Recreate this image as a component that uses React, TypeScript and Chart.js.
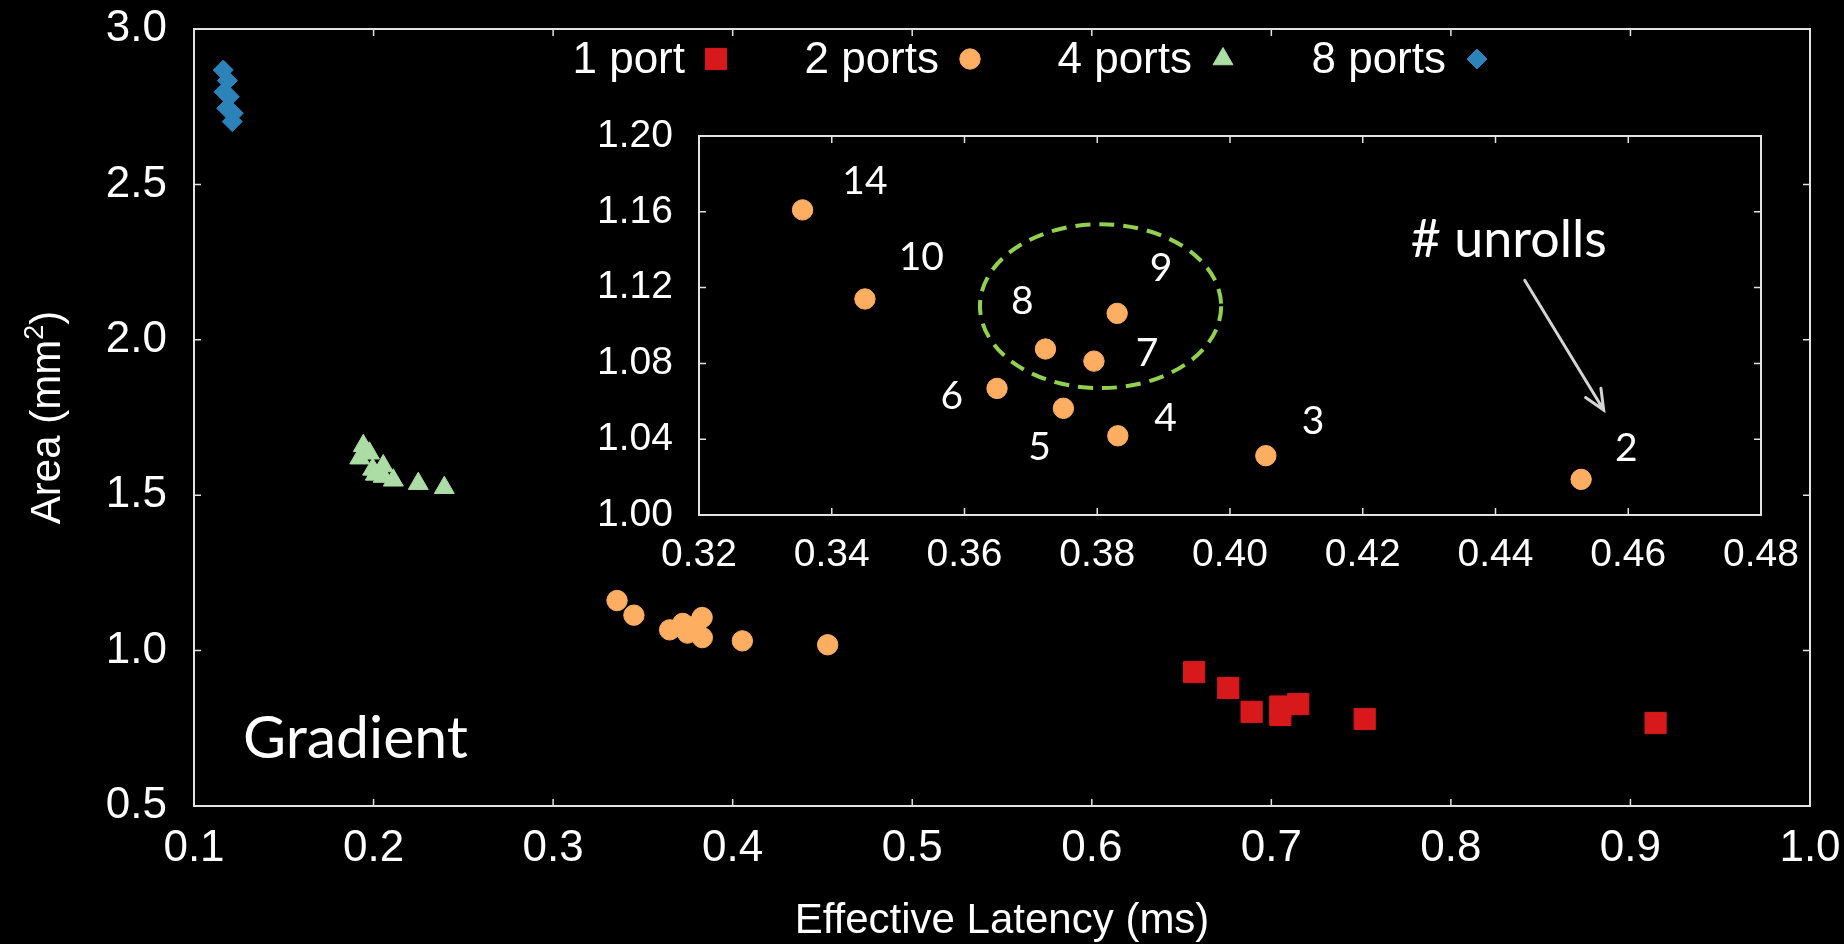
import React, { useEffect, useRef } from 'react';
import { Chart, registerables } from 'chart.js';
Chart.register(...registerables);

// ---------- data ----------
const seriesNames = ['1 port', '2 ports', '4 ports', '8 ports'];

const onePortLatency = [0.657, 0.676, 0.689, 0.705, 0.705, 0.715, 0.752, 0.914];
const onePortArea = [0.931, 0.880, 0.803, 0.820, 0.793, 0.828, 0.780, 0.767];

const twoPortUnrolls = ['14', '10', '9', '8', '7', '6', '5', '4', '3', '2'];
const twoPortLatency = [0.3356, 0.345, 0.383, 0.3722, 0.3795, 0.3649, 0.3749, 0.3831, 0.4054, 0.4529];
const twoPortArea = [1.161, 1.114, 1.1064, 1.0876, 1.0812, 1.0668, 1.0563, 1.0418, 1.0313, 1.0188];

const fourPortLatency = [0.1943, 0.1977, 0.1923, 0.1995, 0.2054, 0.201, 0.2054, 0.211, 0.2249, 0.2394];
const fourPortArea = [1.659, 1.635, 1.619, 1.583, 1.594, 1.567, 1.56, 1.548, 1.537, 1.524];

const eightPortLatency = [0.1163, 0.1186, 0.1167, 0.1197, 0.1182, 0.1219, 0.1213];
const eightPortArea = [2.868, 2.834, 2.798, 2.782, 2.745, 2.729, 2.702];

const mainXTicks = [0.1, 0.2, 0.3, 0.4, 0.5, 0.6, 0.7, 0.8, 0.9, 1.0];
const mainYTicks = [0.5, 1.0, 1.5, 2.0, 2.5, 3.0];
const insetXTicks = [0.32, 0.34, 0.36, 0.38, 0.4, 0.42, 0.44, 0.46, 0.48];
const insetYTicks = [1.0, 1.04, 1.08, 1.12, 1.16, 1.2];

// annotation anchors (inset data coordinates)
const unrollLabelLatency = [0.345, 0.3535, 0.3896, 0.3687, 0.3875, 0.3581, 0.3713, 0.3903, 0.4125, 0.4597];
const unrollLabelArea = [1.1767, 1.1366, 1.131, 1.1134, 1.0861, 1.0633, 1.0364, 1.0518, 1.0501, 1.036];
const ellipseCenter = [0.3805, 1.1102];
const ellipseRadii = [0.01817, 0.04325];
const arrowFrom = [0.4444, 1.1239];
const arrowTo = [0.4563, 1.0554];
const unrollsTitleAt = [0.442, 1.1459];
const gradientAt = [0.1273, 0.654];

// ---------- styles ----------
const W = 1844, H = 944;
const IL = 600, IT = 105, IW = 1205, IH = 480;
const SANS = '"Liberation Sans", Arial, sans-serif';
const HUMAN = 'Lato, "Open Sans", sans-serif';
const RED = '#d7191c', ORANGE = '#fdae61', GREEN = '#abdda4', BLUE = '#2b83ba';
const AXIS = '#e2e2e2';
const seriesColors = [RED, ORANGE, GREEN, BLUE];
const seriesStyles = ['rect', 'circle', 'triangle', 'rectRot'];
const seriesRadii = [15, 10.2, 11.5, 10];

const pts = (xs: number[], ys: number[]) => xs.map((x, i) => ({ x, y: ys[i] }));

function drawMarker(ctx: CanvasRenderingContext2D, style: string, x: number, y: number, r: number) {
  ctx.beginPath();
  if (style === 'rect') {
    const s = r * Math.SQRT1_2;
    ctx.rect(x - s, y - s, 2 * s, 2 * s);
  } else if (style === 'circle') {
    ctx.arc(x, y, r, 0, Math.PI * 2);
  } else if (style === 'triangle') {
    ctx.moveTo(x, y - r);
    ctx.lineTo(x + 0.866 * r, y + 0.5 * r);
    ctx.lineTo(x - 0.866 * r, y + 0.5 * r);
    ctx.closePath();
  } else {
    ctx.moveTo(x - r, y);
    ctx.lineTo(x, y - r);
    ctx.lineTo(x + r, y);
    ctx.lineTo(x, y + r);
    ctx.closePath();
  }
  ctx.fill();
  ctx.stroke();
}

function drawFrameAndTicks(chart: any, tickLen: number) {
  const { ctx, chartArea: a, scales } = chart;
  ctx.save();
  ctx.strokeStyle = AXIS;
  ctx.lineWidth = 2;
  ctx.strokeRect(a.left, a.top, a.right - a.left, a.bottom - a.top);
  ctx.lineWidth = 1.5;
  ctx.beginPath();
  scales.x.ticks.forEach((t: any) => {
    const px = scales.x.getPixelForValue(t.value);
    if (px <= a.left + 2 || px >= a.right - 2) return;
    ctx.moveTo(px, a.bottom);
    ctx.lineTo(px, a.bottom - tickLen);
    ctx.moveTo(px, a.top);
    ctx.lineTo(px, a.top + tickLen);
  });
  scales.y.ticks.forEach((t: any) => {
    const py = scales.y.getPixelForValue(t.value);
    if (py <= a.top + 2 || py >= a.bottom - 2) return;
    ctx.moveTo(a.left, py);
    ctx.lineTo(a.left + tickLen, py);
    ctx.moveTo(a.right, py);
    ctx.lineTo(a.right - tickLen, py);
  });
  ctx.stroke();
  ctx.restore();
}

const mainDecor = {
  id: 'mainDecor',
  afterDraw(chart: any) {
    const { ctx, chartArea: a, scales } = chart;
    drawFrameAndTicks(chart, 7);
    ctx.save();
    // legend (text then sample)
    const markerX = [716, 970, 1223, 1477];
    ctx.font = `44px ${SANS}`;
    ctx.textAlign = 'right';
    ctx.textBaseline = 'alphabetic';
    seriesNames.forEach((name, i) => {
      ctx.fillStyle = '#ffffff';
      ctx.fillText(name, markerX[i] - 31, a.top + 44);
      ctx.fillStyle = seriesColors[i];
      ctx.strokeStyle = seriesColors[i];
      ctx.lineWidth = 1;
      drawMarker(ctx, seriesStyles[i], markerX[i], a.top + 30, seriesRadii[i]);
    });
    // x title
    ctx.fillStyle = '#ffffff';
    ctx.font = `42px ${SANS}`;
    ctx.textAlign = 'center';
    ctx.fillText('Effective Latency (ms)', (a.left + a.right) / 2, 933);
    // y title with superscript
    ctx.save();
    ctx.translate(60, (a.top + a.bottom) / 2);
    ctx.rotate(-Math.PI / 2);
    const p1 = 'Area (mm', sup = '2', p2 = ')';
    ctx.font = `42px ${SANS}`;
    const w1 = ctx.measureText(p1).width;
    const w3 = ctx.measureText(p2).width;
    ctx.font = `27px ${SANS}`;
    const w2 = ctx.measureText(sup).width;
    const total = w1 + w2 + w3;
    let sx = -total / 2;
    ctx.textAlign = 'left';
    ctx.font = `42px ${SANS}`;
    ctx.fillText(p1, sx, 0);
    sx += w1;
    ctx.font = `27px ${SANS}`;
    ctx.fillText(sup, sx, -17);
    sx += w2;
    ctx.font = `42px ${SANS}`;
    ctx.fillText(p2, sx, 0);
    ctx.restore();
    // "Gradient"
    ctx.font = `59px ${HUMAN}`;
    ctx.textAlign = 'left';
    ctx.fillText('Gradient', scales.x.getPixelForValue(gradientAt[0]), scales.y.getPixelForValue(gradientAt[1]));
    ctx.restore();
  },
};

const insetDecor = {
  id: 'insetDecor',
  afterDraw(chart: any) {
    const { ctx, scales } = chart;
    const sx = scales.x, sy = scales.y;
    drawFrameAndTicks(chart, 7);
    ctx.save();
    // dashed ellipse
    const cx = sx.getPixelForValue(ellipseCenter[0]);
    const cy = sy.getPixelForValue(ellipseCenter[1]);
    const rx = Math.abs(sx.getPixelForValue(ellipseCenter[0] + ellipseRadii[0]) - cx);
    const ry = Math.abs(sy.getPixelForValue(ellipseCenter[1] + ellipseRadii[1]) - cy);
    ctx.strokeStyle = '#92d050';
    ctx.lineWidth = 4;
    ctx.setLineDash([15, 9]);
    ctx.beginPath();
    ctx.ellipse(cx, cy, rx, ry, 0, 0, Math.PI * 2);
    ctx.stroke();
    ctx.setLineDash([]);
    // unroll labels
    ctx.fillStyle = '#ffffff';
    ctx.font = `39px ${HUMAN}`;
    ctx.textAlign = 'center';
    ctx.textBaseline = 'alphabetic';
    twoPortUnrolls.forEach((lab, i) => {
      const px = sx.getPixelForValue(unrollLabelLatency[i]);
      const py = sy.getPixelForValue(unrollLabelArea[i]);
      ctx.fillText(lab, px, py + 39 * 0.36);
    });
    // "# unrolls"
    ctx.font = `52px ${HUMAN}`;
    ctx.fillText('# unrolls', sx.getPixelForValue(unrollsTitleAt[0]), sy.getPixelForValue(unrollsTitleAt[1]) + 52 * 0.36);
    // arrow
    const x0 = sx.getPixelForValue(arrowFrom[0]), y0 = sy.getPixelForValue(arrowFrom[1]);
    const x1 = sx.getPixelForValue(arrowTo[0]), y1 = sy.getPixelForValue(arrowTo[1]);
    const ang = Math.atan2(y1 - y0, x1 - x0);
    ctx.strokeStyle = '#d4d4d4';
    ctx.lineWidth = 3;
    ctx.lineCap = 'round';
    ctx.beginPath();
    ctx.moveTo(x0, y0);
    ctx.lineTo(x1, y1);
    const hl = 22, ha = 0.42;
    ctx.moveTo(x1 - hl * Math.cos(ang - ha), y1 - hl * Math.sin(ang - ha));
    ctx.lineTo(x1, y1);
    ctx.lineTo(x1 - hl * Math.cos(ang + ha), y1 - hl * Math.sin(ang + ha));
    ctx.stroke();
    ctx.restore();
  },
};

function axisOpts(min: number, max: number, ticks: number[], digits: number, size: number, padding: number, fit: (s: any) => void) {
  return {
    type: 'linear' as const,
    min,
    max,
    afterBuildTicks: (s: any) => {
      s.ticks = ticks.map((v) => ({ value: v }));
    },
    afterFit: (s: any) => {
      fit(s);
      s.paddingTop = 0;
      s.paddingBottom = 0;
      s.paddingLeft = 0;
      s.paddingRight = 0;
    },
    grid: { display: false, drawTicks: false },
    border: { display: false },
    ticks: {
      color: '#ffffff',
      font: { family: SANS, size },
      padding,
      autoSkip: false,
      maxRotation: 0,
      callback: (v: any) => Number(v).toFixed(digits),
    },
  };
}

export default function App() {
  const mainRef = useRef<HTMLCanvasElement>(null);
  const insetRef = useRef<HTMLCanvasElement>(null);

  useEffect(() => {
    const dataSeries = [
      pts(onePortLatency, onePortArea),
      pts(twoPortLatency, twoPortArea),
      pts(fourPortLatency, fourPortArea),
      pts(eightPortLatency, eightPortArea),
    ];
    const main = new Chart(mainRef.current as HTMLCanvasElement, {
      type: 'scatter',
      data: {
        datasets: dataSeries.map((d, i) => ({
          label: seriesNames[i],
          data: d,
          backgroundColor: seriesColors[i],
          borderColor: seriesColors[i],
          borderWidth: 1,
          pointStyle: seriesStyles[i] as any,
          pointRadius: seriesRadii[i],
          pointHoverRadius: seriesRadii[i],
        })),
      },
      options: {
        responsive: false,
        animation: false,
        devicePixelRatio: 1,
        events: [],
        layout: { padding: { top: 29, right: 34, left: 0, bottom: 0 } },
        plugins: { legend: { display: false }, tooltip: { enabled: false } },
        scales: {
          x: axisOpts(0.1, 1.0, mainXTicks, 1, 44, 16, (s: any) => { s.height = 138; }),
          y: axisOpts(0.5, 3.0, mainYTicks, 1, 44, 27, (s: any) => { s.width = 194; }),
        },
      },
      plugins: [mainDecor],
    });

    const inset = new Chart(insetRef.current as HTMLCanvasElement, {
      type: 'scatter',
      data: {
        datasets: [
          {
            label: seriesNames[1],
            data: pts(twoPortLatency, twoPortArea),
            backgroundColor: ORANGE,
            borderColor: ORANGE,
            borderWidth: 1,
            pointStyle: 'circle',
            pointRadius: 10.2,
            pointHoverRadius: 10.2,
          },
        ],
      },
      options: {
        responsive: false,
        animation: false,
        devicePixelRatio: 1,
        events: [],
        layout: { padding: { top: 31, right: 44, left: 0, bottom: 0 } },
        plugins: { legend: { display: false }, tooltip: { enabled: false } },
        scales: {
          x: axisOpts(0.32, 0.48, insetXTicks, 2, 39, 17, (s: any) => { s.height = 70; }),
          y: axisOpts(1.0, 1.2, insetYTicks, 2, 39, 26, (s: any) => { s.width = 99; }),
        },
      },
      plugins: [insetDecor],
    });

    return () => {
      main.destroy();
      inset.destroy();
    };
  }, []);

  return (
    <div style={{ position: 'fixed', left: 0, top: 0, width: W, height: H, background: '#000', overflow: 'hidden' }}>
      <canvas ref={mainRef} width={W} height={H} style={{ position: 'absolute', left: 0, top: 0, width: W, height: H }} />
      <canvas ref={insetRef} width={IW} height={IH} style={{ position: 'absolute', left: IL, top: IT, width: IW, height: IH }} />
    </div>
  );
}
